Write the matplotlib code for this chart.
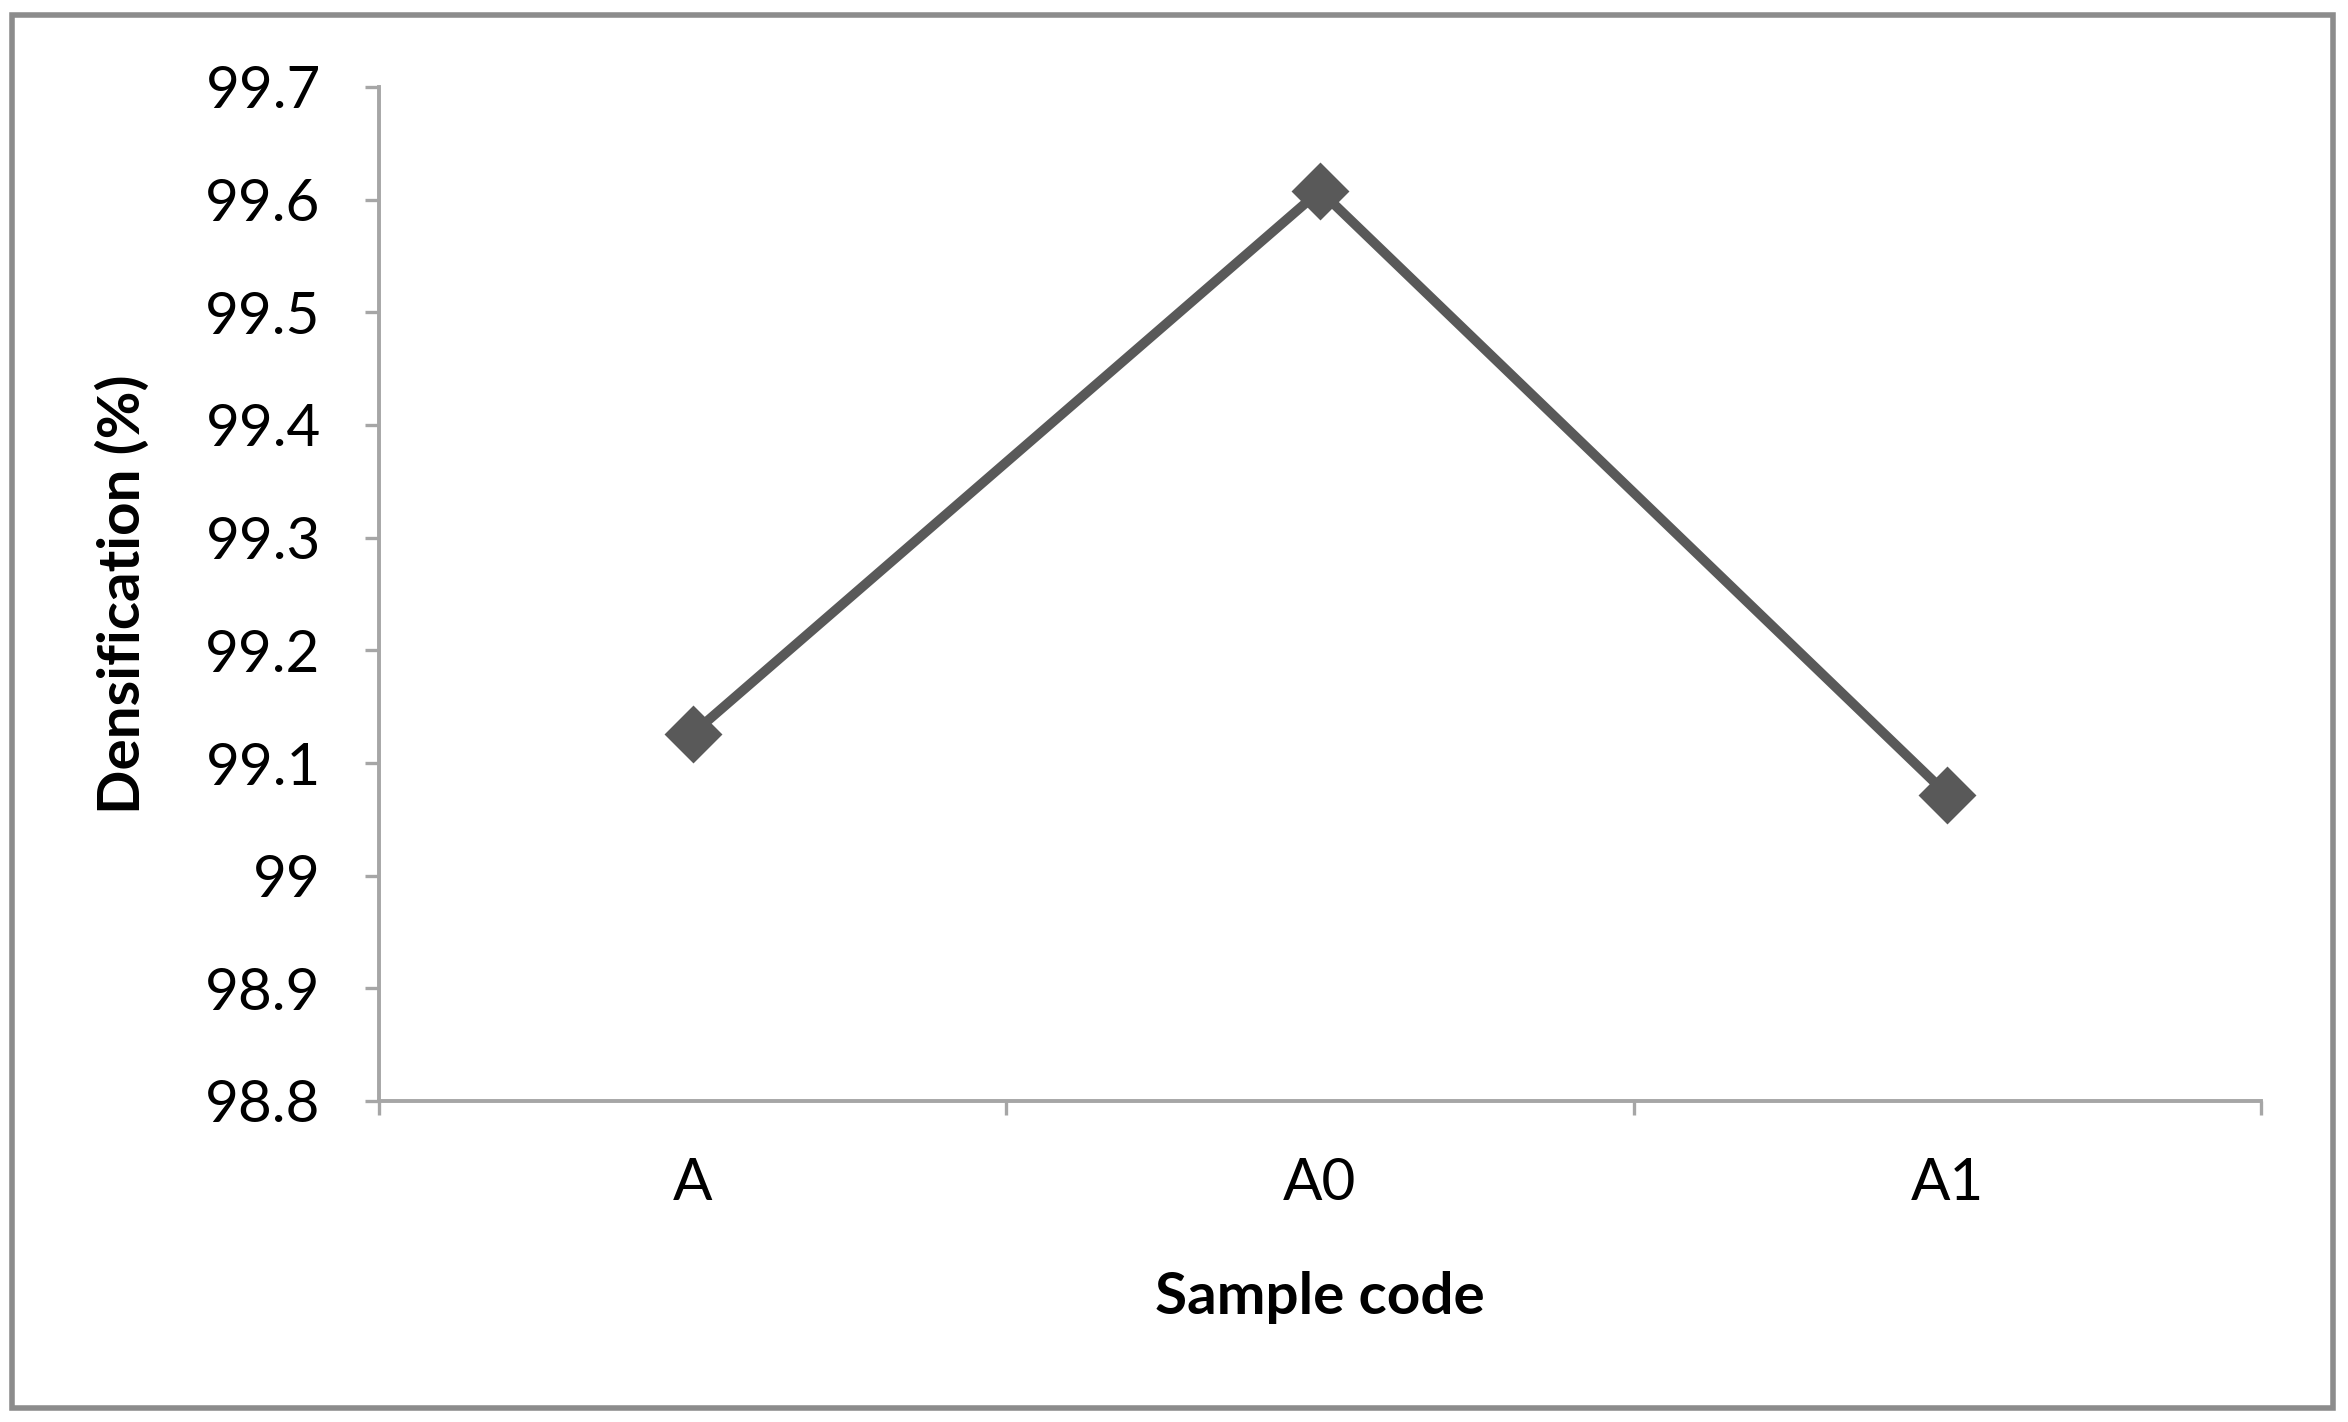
import matplotlib.pyplot as plt
from matplotlib.patches import Rectangle

samples = ["A", "A0", "A1"]
densification = [99.126, 99.608, 99.072]
y_ticks = [98.8, 98.9, 99.0, 99.1, 99.2, 99.3, 99.4, 99.5, 99.6, 99.7]
y_tick_labels = ["98.8", "98.9", "99", "99.1", "99.2", "99.3", "99.4", "99.5", "99.6", "99.7"]

plt.rcParams['font.family'] = ['Lato', 'DejaVu Sans']

W, H = 2348, 1422
fig = plt.figure(figsize=(W / 200, H / 200), dpi=200)
ax = fig.add_axes([379 / W, 1 - 1101 / H, (2261 - 379) / W, (1101 - 87) / H])

# outer frame like the exported chart area
fig.patches.append(Rectangle((12 / W, 1 - 1408 / H), (2333 - 12) / W, (1408 - 15) / H,
                             transform=fig.transFigure, fill=False,
                             edgecolor="#8c8c8c", linewidth=2.0))

x = list(range(len(samples)))
ax.plot(x, densification, color="#595959", linewidth=3.5, marker="D",
        markersize=14, markerfacecolor="#595959", markeredgecolor="#595959",
        solid_capstyle="butt")

ax.set_xlim(-0.5, len(samples) - 0.5)
ax.set_ylim(98.8, 99.7)
ax.set_yticks(y_ticks)
ax.set_yticklabels(y_tick_labels)

# categories centred, tick marks between them
ax.set_xticks([i - 0.5 for i in range(len(samples) + 1)])
ax.set_xticklabels([])
ax.set_xticks(x, minor=True)
ax.set_xticklabels(samples, minor=True)
ax.tick_params(axis="x", which="minor", length=0, pad=20, labelsize=21)
ax.tick_params(axis="x", which="major", length=5, width=1.2, color="#a6a6a6", direction="out")
ax.tick_params(axis="y", length=5, width=1.2, color="#a6a6a6", pad=16, labelsize=21)

for side in ["top", "right"]:
    ax.spines[side].set_visible(False)
for side in ["left", "bottom"]:
    ax.spines[side].set_color("#a6a6a6")
    ax.spines[side].set_linewidth(1.4)

ax.set_xlabel("Sample code", fontsize=21, fontweight="bold", labelpad=22)
ax.set_ylabel("Densification (%)", fontsize=21, fontweight="bold", labelpad=20)

fig.savefig("out.png", dpi=200, facecolor="white")
